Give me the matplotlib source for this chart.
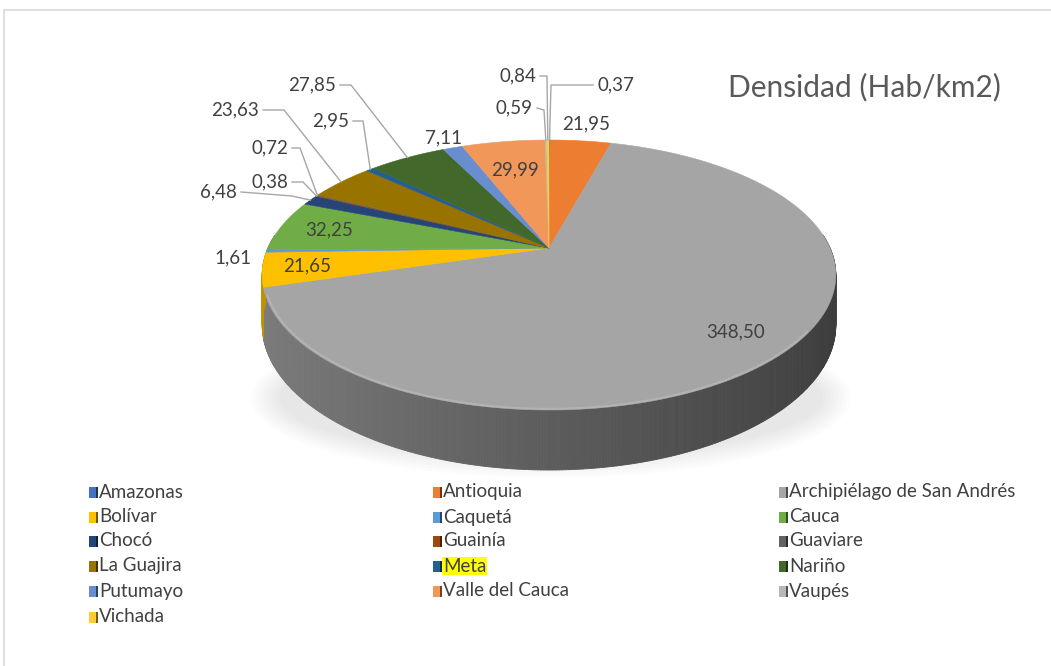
import numpy as np
import matplotlib
matplotlib.use("Agg")
import matplotlib.pyplot as plt
from matplotlib.collections import PolyCollection
from matplotlib.patches import Rectangle, Ellipse
from matplotlib.colors import to_rgb

plt.rcParams["font.family"] = ["Lato", "DejaVu Sans"]

# data, in the chart's slice order (clockwise from 12 o'clock)
departments = ["Amazonas", "Antioquia", "Archipiélago de San Andrés", "Bolívar",
               "Caquetá", "Cauca", "Chocó", "Guainía", "Guaviare", "La Guajira",
               "Meta", "Nariño", "Putumayo", "Valle del Cauca", "Vaupés", "Vichada"]
density = [0.37, 21.95, 348.50, 21.65, 1.61, 32.25, 6.48, 0.38, 0.72, 23.63,
           2.95, 27.85, 7.11, 29.99, 0.59, 0.84]
colors = ["#4472C4", "#ED7D31", "#A5A5A5", "#FFC000", "#5B9BD5", "#70AD47",
          "#264478", "#9E480E", "#636363", "#997300", "#255E91", "#43682B",
          "#698ED0", "#F1975A", "#B7B7B7", "#FFCD33"]

TEXT = "#404040"
LINE = "#a6a6a6"

# perspective projection of a flat disc (screen pixels, y down)
CX, CY = 549, 248
SX, Q, P = 281, 129.6, 0.2
DEPTH = 48


def proj(phi, r=1.0, drop=0.0):
    phi = np.radians(phi)
    u, v = r * np.sin(phi), r * np.cos(phi)
    den = 1 + P * v
    return CX + SX * u / den, CY - Q * v / den + drop / den


def fmt(v):
    return f"{v:.2f}".replace(".", ",")


vals = np.array(density)
edges = np.concatenate([[0], np.cumsum(vals)]) / vals.sum() * 360
mids = (edges[:-1] + edges[1:]) / 2

fig = plt.figure(figsize=(10.51, 6.66), dpi=100)
ax = fig.add_axes([0, 0, 1, 1])
ax.set_xlim(0, 1051)
ax.set_ylim(666, 0)
ax.axis("off")

# chart frame
ax.plot([4, 4, 1051], [666, 10, 10], color="#d9d9d9", lw=1.2)

# soft shadow under the pie
for k in range(8):
    ax.add_patch(Ellipse((CX + 2, 398), 600 - k * 8, 160 - k * 6,
                         facecolor="#000000", alpha=0.012, lw=0, zorder=1))

# side wall
side_polys, side_cols = [], []
for i in range(len(vals)):
    a0, a1 = edges[i], edges[i + 1]
    n = max(2, int((a1 - a0) / 0.5))
    angs = np.linspace(a0, a1, n + 1)
    base = np.array(to_rgb(colors[i]))
    for j in range(n):
        b0, b1 = angs[j], angs[j + 1]
        if np.cos(np.radians((b0 + b1) / 2)) > 0.1:
            continue
        x0, y0 = proj(b0)
        x1, y1 = proj(b1)
        x2, y2 = proj(b1, drop=DEPTH)
        x3, y3 = proj(b0, drop=DEPTH)
        side_polys.append([(x0, y0), (x1, y1), (x2, y2), (x3, y3)])
        u = np.sin(np.radians((b0 + b1) / 2))
        f = 0.56 - 0.2 * u
        side_cols.append(np.clip(base * f, 0, 1))
ax.add_collection(PolyCollection(side_polys, facecolors=side_cols,
                                 edgecolors=side_cols, linewidths=0.6, zorder=2))

# top face
for i in range(len(vals)):
    angs = np.linspace(edges[i], edges[i + 1], max(3, int((edges[i + 1] - edges[i]) * 2)))
    xs, ys = proj(angs)
    poly = [(CX, CY)] + list(zip(xs, ys))
    ax.add_patch(plt.Polygon(poly, closed=True, facecolor=colors[i],
                             edgecolor=colors[i], lw=0.4, zorder=3))

# light bevel along the front rim
ba = np.linspace(125, 250, 200)
bx, by = proj(ba, r=0.994)
ax.plot(bx, by, color="#bdbdbd", lw=1.4, alpha=0.6, zorder=4,
        solid_capstyle="round")

# labels inside / next to the large slices
inside = {2: 0.82, 13: 0.70, 5: 0.82, 3: 0.85, 1: 1.2, 12: 1.12, 4: 1.12}
for i, r in inside.items():
    x, y = proj(mids[i], r=r)
    if i == 4:
        y += 7
    ax.text(x, y, fmt(density[i]), ha="center", va="center", fontsize=13.5,
            color=TEXT, zorder=6)

# labels with leader lines: (slice, text position, elbow, text alignment)
leaders = [
    (0, (598, 85), [(593, 85), (551, 85)], "left"),
    (15, (536, 76), [(540, 76), (547, 76)], "right"),
    (14, (533, 108), [(537, 108), (544, 110)], "right"),
    (11, (336, 85), [(340, 85), (351, 85)], "right"),
    (10, (349, 121), [(353, 121), (363, 121)], "right"),
    (9, (259, 110), [(263, 110), (284, 110)], "right"),
    (8, (288, 148), [(292, 148), (300, 148)], "right"),
    (7, (288, 182), [(292, 182), (303, 182)], "right"),
    (6, (237, 192), [(241, 192), (292, 196)], "right"),
]
for i, (tx, ty), elbow, ha in leaders:
    ex, ey = proj(mids[i])
    px = [p[0] for p in elbow] + [ex]
    py = [p[1] for p in elbow] + [ey]
    ax.plot(px, py, color=LINE, lw=1.0, zorder=5)
    ax.text(tx, ty, fmt(density[i]), ha=ha, va="center", fontsize=13.5,
            color=TEXT, zorder=6)

# title
ax.text(864, 87, "Densidad (Hab/km2)", ha="center", va="center", fontsize=21.5,
        color="#595959")

# legend, row-major in three columns
col_x = [89, 433, 779]
row_y = [492, 517, 541, 566, 591, 617]
for k, name in enumerate(departments):
    x = col_x[k % 3]
    y = row_y[k // 3]
    c = np.array(to_rgb(colors[k]))
    ax.add_patch(Rectangle((x, y - 5.5), 6.5, 11, facecolor=c, edgecolor="none"))
    ax.add_patch(Rectangle((x + 6.5, y - 5.5), 2.5, 11, facecolor=c * 0.45,
                           edgecolor="none"))
    kw = {}
    if name == "Meta":
        kw["bbox"] = dict(facecolor="#ffff00", edgecolor="none", pad=0.5)
    ax.text(x + 10, y, name, ha="left", va="center", fontsize=13.5,
            color=TEXT, **kw)

fig.savefig("out.png", dpi=100, facecolor="white")
